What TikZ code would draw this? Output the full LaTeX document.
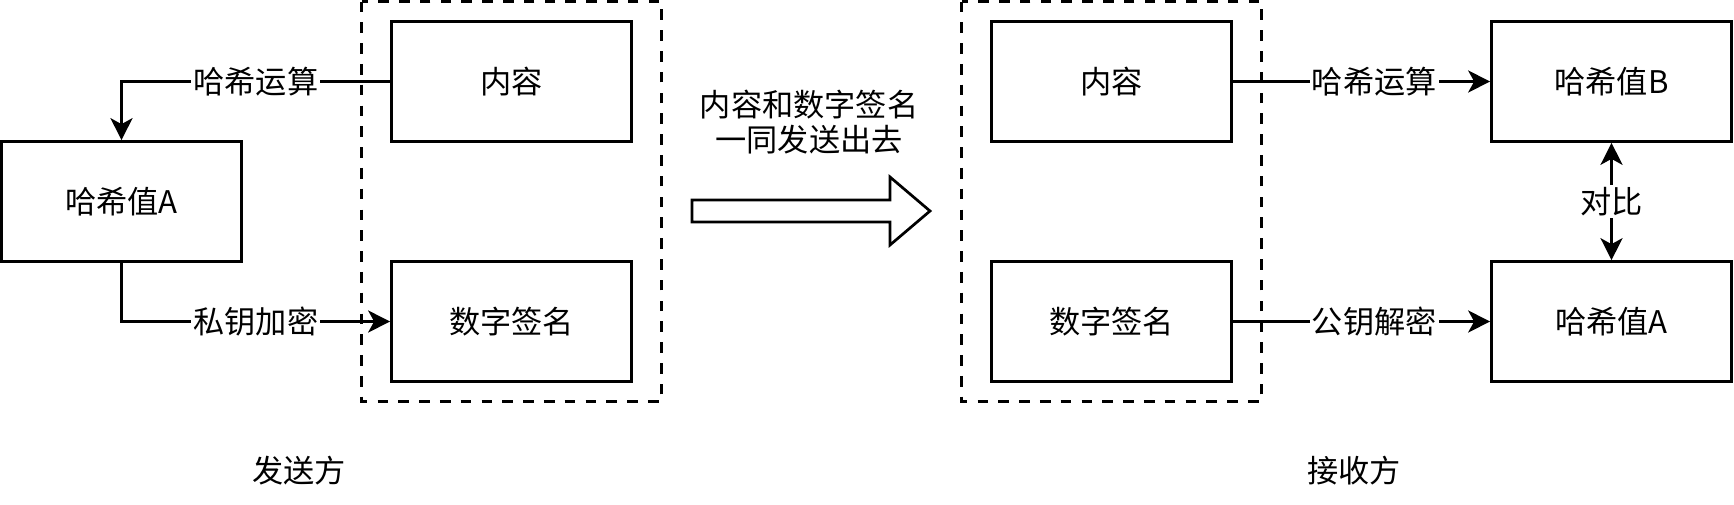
\documentclass[tikz,border=0pt]{standalone}
\usepackage{fontspec}
\setmainfont{Noto Sans CJK SC}
\usetikzlibrary{arrows.meta}
\begin{document}
\begin{tikzpicture}[x=0.5pt,y=-0.5pt,
  every node/.style={font=\fontsize{15.6}{17.6}\selectfont},
  box/.style={draw,line width=1.35pt,minimum width=120pt,minimum height=60pt,inner sep=0pt},
  group/.style={draw,line width=1.35pt,dash pattern=on 5.3pt off 5.1pt},
  arr/.style={line width=1.35pt,-{Stealth[length=11pt,width=11pt,inset=3pt]}},
  darr/.style={line width=1.35pt,{Stealth[length=11pt,width=11pt,inset=3pt]}-{Stealth[length=11pt,width=11pt,inset=3pt]}},
  lbl/.style={fill=white,inner sep=1pt}
]
\useasboundingbox (0,0) rectangle (1734,504);
% groups
\draw[group] (361.5,1.5) rectangle (661.5,401.5);
\draw[group] (961.5,1.5) rectangle (1261.5,401.5);
% boxes
\node[box] (hashAL) at (121.5,201.5) {哈希值A};
\node[box] (contentL) at (511.5,81.5) {内容};
\node[box] (sigL) at (511.5,321.5) {数字签名};
\node[box] (contentR) at (1111.5,81.5) {内容};
\node[box] (sigR) at (1111.5,321.5) {数字签名};
\node[box] (hashB) at (1611.5,81.5) {哈希值B};
\node[box] (hashAR) at (1611.5,321.5) {哈希值A};
% connectors
\draw[arr] (contentL.west) -| node[lbl,pos=0.25] {哈希运算} (hashAL.north);
\draw[arr] (hashAL.south) |- node[lbl,pos=0.75] {私钥加密} (sigL.west);
\draw[arr] (contentR.east) -- node[lbl,pos=0.55] {哈希运算} (hashB.west);
\draw[arr] (sigR.east) -- node[lbl,pos=0.55] {公钥解密} (hashAR.west);
\draw[darr] (hashB.south) -- node[lbl] {对比} (hashAR.north);
% big hollow arrow
\draw[line width=1.35pt,line join=miter] (692,200) -- (890,200) -- (890,177) -- (930,211) -- (890,245) -- (890,222) -- (692,222) -- cycle;
\node[align=center] (sendtext) at (809,122) {内容和数字签名\\一同发送出去};
% captions
\node (sender) at (299,471) {发送方};
\node (receiver) at (1354,471) {接收方};
\end{tikzpicture}
\end{document}
